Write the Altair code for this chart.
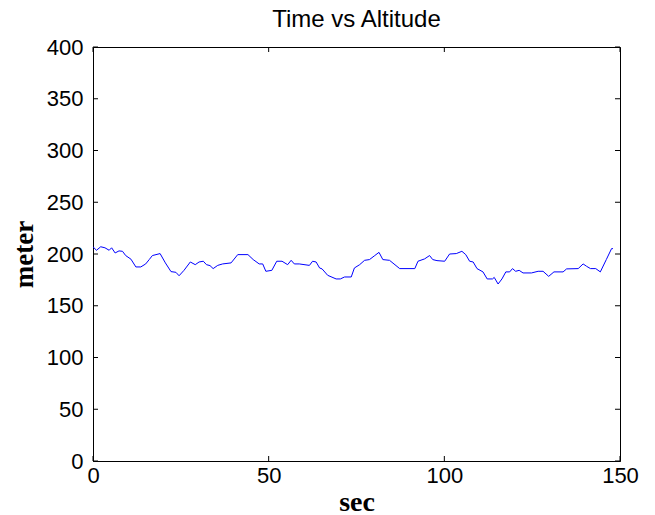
import altair as alt
import pandas as pd

# Data
time_s = [0, 1, 2.2, 3.4, 4.6, 5.3, 6.3, 7.4, 8.4, 9.3, 10.8, 12.2, 13.6, 15, 16, 16.9,
          19.1, 20.6, 22.2, 23.6, 24.5, 25.9, 27.7, 29.1, 30.2, 31.4, 32.3, 33.3, 34.2,
          35.5, 36.9, 39.3, 41.2, 44.1, 45.6, 47.3, 48.3, 49.2, 50.9, 52.3, 53.8, 55.4,
          56.4, 57.3, 58.7, 61.6, 62.5, 63.5, 64.5, 65.2, 66.8, 69.2, 70.4, 71.6, 73.5,
          74.4, 75.9, 77.3, 78.7, 80.2, 81.4, 82.5, 84.4, 87.3, 91.6, 92.5, 94.4, 95.8,
          96.7, 97.9, 100.1, 101.5, 103.4, 105, 106.1, 107.2, 108.2, 109.3, 111, 112.2,
          113.7, 114.2, 115.3, 116.4, 117.5, 118.6, 119.4, 120.3, 121.3, 122.4, 124.8,
          126.7, 128.1, 129.7, 131.2, 133.8, 134.8, 138.1, 139.5, 140.5, 141.6, 143.1,
          144.4, 146.1, 147.6, 148]
altitude_m = [206.9, 203.6, 207, 206, 203.6, 206, 201, 203, 202.6, 198.5, 195, 187.5,
              187.5, 190.4, 194.6, 198.5, 200.4, 191.4, 183, 182.3, 179, 184.2, 192.3,
              189.7, 192.3, 193, 189.7, 188.8, 185.9, 189, 190.4, 191.4, 199.4, 199.4,
              194.6, 190.4, 190.4, 183.3, 184.2, 193, 193, 189.7, 193.9, 190.4, 190.4,
              189, 193, 192.3, 186.5, 185.6, 179.4, 175.9, 175.9, 177.8, 177.8, 186.5,
              189.7, 193.9, 194.6, 198.5, 201.6, 194.6, 193.9, 185.9, 185.9, 193, 195.3,
              198.5, 194.6, 193.6, 193, 200, 200.4, 202.6, 199.4, 193, 192.3, 185.9,
              182.7, 175.9, 175.9, 177.4, 171, 175.9, 182.7, 182.7, 185.9, 183.3, 184.2,
              181.7, 181.7, 183.3, 183.3, 178.4, 182.7, 182.7, 185.6, 185.9, 190.4,
              188.1, 185.9, 185.9, 182.7, 194.6, 205.2, 205.2]

X_TICKS = [0, 50, 100, 150]
Y_TICKS = [0, 50, 100, 150, 200, 250, 300, 350, 400]

TITLE = "Time vs Altitude"
X_TITLE = "sec"
Y_TITLE = "meter"

df = pd.DataFrame({"t": time_s, "alt": altitude_m})

xscale = alt.Scale(domain=[0, 150], nice=False, zero=False)
yscale = alt.Scale(domain=[0, 400], nice=False, zero=False)

xaxis = alt.Axis(values=X_TICKS, title=X_TITLE, grid=False, ticks=False,
                 domainColor="black", labelColor="black", labelFont="Liberation Sans",
                 labelFontSize=22, labelPadding=4, titleFont="Liberation Serif",
                 titleFontSize=28, titleFontWeight="bold", titleColor="black",
                 titlePadding=2, labelFlush=False)
yaxis = alt.Axis(values=Y_TICKS, title=Y_TITLE, grid=False, ticks=False,
                 domainColor="black", labelColor="black", labelFont="Liberation Sans",
                 labelFontSize=22, labelPadding=10, titleFont="Liberation Serif",
                 titleFontSize=27, titleFontWeight="bold", titleColor="black",
                 titlePadding=8, labelFlush=False)

line = alt.Chart(df).mark_line(color="#0000ff", strokeWidth=1).encode(
    x=alt.X("t:Q", scale=xscale, axis=xaxis),
    y=alt.Y("alt:Q", scale=yscale, axis=yaxis),
)

# inward tick marks (MATLAB style) on all four sides
xt = pd.DataFrame({"v": X_TICKS})
yt = pd.DataFrame({"v": Y_TICKS})
tick_style = dict(color="black", strokeWidth=1)
bottom_ticks = alt.Chart(xt).mark_rule(**tick_style).encode(
    x=alt.X("v:Q", scale=xscale), y=alt.value(414), y2=alt.value(409))
top_ticks = alt.Chart(xt).mark_rule(**tick_style).encode(
    x=alt.X("v:Q", scale=xscale), y=alt.value(0), y2=alt.value(5))
left_ticks = alt.Chart(yt).mark_rule(**tick_style).encode(
    y=alt.Y("v:Q", scale=yscale), x=alt.value(0), x2=alt.value(5))
right_ticks = alt.Chart(yt).mark_rule(**tick_style).encode(
    y=alt.Y("v:Q", scale=yscale), x=alt.value(527), x2=alt.value(522))

chart = alt.layer(line, bottom_ticks, top_ticks, left_ticks, right_ticks).properties(
    width=527, height=414,
    title=alt.TitleParams(TITLE, font="Liberation Sans", fontSize=24,
                          fontWeight="normal", color="black", anchor="middle", offset=4),
    autosize=alt.AutoSizeParams(type="none"),
    padding={"left": 93, "top": 47, "right": 35, "bottom": 54},
    background="white",
).configure_view(stroke="black", strokeWidth=1)

chart.save("out.html", embed_options={"renderer": "svg", "actions": False})
